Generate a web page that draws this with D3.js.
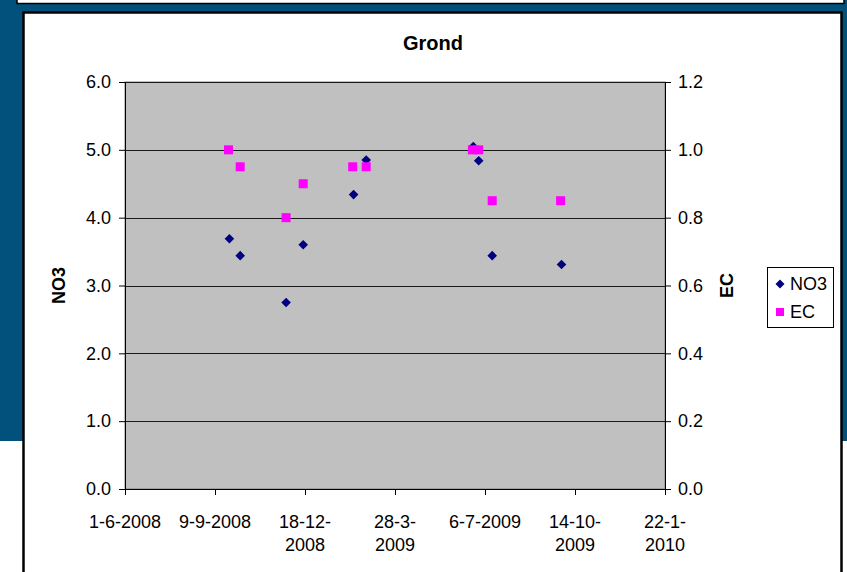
<!DOCTYPE html>
<html><head><meta charset="utf-8">
<script src="https://cdn.jsdelivr.net/npm/d3@7"></script>
<style>html,body{margin:0;padding:0;background:#fff;}svg{display:block;}</style>
</head><body>
<svg id="c" width="847" height="572"></svg>
<script>
const title = "Grond";
const no3Dates = ["2008-09-25","2008-10-07","2008-11-27","2008-12-16","2009-02-10","2009-02-24","2009-06-23","2009-06-29","2009-07-14","2009-09-29"];
const no3Values = [3.69,3.44,2.75,3.60,4.34,4.85,5.05,4.84,3.44,3.31];
const ecDates = ["2008-09-24","2008-10-07","2008-11-27","2008-12-16","2009-02-09","2009-02-24","2009-06-22","2009-06-29","2009-07-14","2009-09-28"];
const ecValues = [1.0,0.95,0.80,0.90,0.95,0.95,1.0,1.0,0.85,0.85];
const xTickDates = ["2008-06-01","2008-09-09","2008-12-18","2009-03-28","2009-07-06","2009-10-14","2010-01-22"];
const xTickLabels = ["1-6-2008","9-9-2008","18-12-2008","28-3-2009","6-7-2009","14-10-2009","22-1-2010"];
const leftTicks = [0,1,2,3,4,5,6];
const rightTicks = [0,0.2,0.4,0.6,0.8,1.0,1.2];
const seriesNames = ["NO3","EC"];

const parse = d3.utcParse("%Y-%m-%d");
const svg = d3.select("#c");
const font = "'Liberation Sans', Arial, sans-serif";
const blue = "#02507c";
const fs = 18;

// background
svg.append("rect").attr("x",0).attr("y",0).attr("width",847).attr("height",441).attr("fill",blue);
svg.append("rect").attr("x",17).attr("y",-4).attr("width",827).attr("height",7.5).attr("fill","#fff").attr("stroke","#000").attr("stroke-width",1.5);
svg.append("rect").attr("x",23.5).attr("y",12.5).attr("width",818).attr("height",580).attr("fill","#fff").attr("stroke","#000").attr("stroke-width",2.5);

const L=125, R=665, T=82, B=489;
const x = d3.scaleUtc().domain([parse(xTickDates[0]), parse(xTickDates[xTickDates.length-1])]).range([L,R]);
const yL = d3.scaleLinear().domain([0,6]).range([B,T]);
const yR = d3.scaleLinear().domain([0,1.2]).range([B,T]);

svg.append("rect").attr("x",L).attr("y",T).attr("width",R-L).attr("height",B-T).attr("fill","#c0c0c0").attr("stroke","#808080").attr("stroke-width",1);

// gridlines
svg.append("g").selectAll("line").data(leftTicks.slice(1)).join("line")
  .attr("x1",L).attr("x2",R).attr("y1",d=>Math.round(yL(d))+0.5).attr("y2",d=>Math.round(yL(d))+0.5)
  .attr("stroke","#1a1a1a").attr("stroke-width",1);

// axes
const fmt1 = d3.format(".1f");
const gl = svg.append("g").attr("transform",`translate(${L},0)`)
  .call(d3.axisLeft(yL).tickValues(leftTicks).tickFormat(fmt1).tickSize(6).tickSizeOuter(0));
const gr = svg.append("g").attr("transform",`translate(${R},0)`)
  .call(d3.axisRight(yR).tickValues(rightTicks).tickFormat(fmt1).tickSize(6).tickSizeOuter(0));
const gb = svg.append("g").attr("transform",`translate(0,${B})`)
  .call(d3.axisBottom(x).tickValues(xTickDates.map(parse)).tickFormat("").tickSize(6).tickSizeOuter(0));
[gl,gr,gb].forEach(g=>{
  g.select(".domain").attr("stroke","#000");
  g.selectAll(".tick line").attr("stroke","#000");
  g.selectAll("text").attr("font-family",font).attr("font-size",fs).attr("fill","#000");
});
gl.selectAll("text").attr("x",-14);
gr.selectAll("text").attr("x",13);

// x labels (wrapped)
const xl = svg.append("g");
xTickDates.forEach((d,i)=>{
  const lab = xTickLabels[i];
  let lines = [lab];
  if (lab.length > 8) { const k = lab.lastIndexOf("-"); lines = [lab.slice(0,k+1), lab.slice(k+1)]; }
  const t = xl.append("text").attr("x",x(parse(d))).attr("y",B+39).attr("text-anchor","middle")
    .attr("font-family",font).attr("font-size",fs).attr("fill","#000");
  lines.forEach((ln,j)=>t.append("tspan").attr("x",x(parse(d))).attr("dy",j?23:0).text(ln));
});

// title & axis titles
svg.append("text").attr("x",433).attr("y",50).attr("text-anchor","middle")
  .attr("font-family",font).attr("font-weight","bold").attr("font-size",20).text(title);
svg.append("text").attr("transform",`translate(65,${(T+B)/2}) rotate(-90)`).attr("text-anchor","middle")
  .attr("font-family",font).attr("font-weight","bold").attr("font-size",fs).text(seriesNames[0]);
svg.append("text").attr("transform",`translate(733,${(T+B)/2}) rotate(-90)`).attr("text-anchor","middle")
  .attr("font-family",font).attr("font-weight","bold").attr("font-size",fs).text(seriesNames[1]);

// markers
const diamond = s => `M0,${-s}L${s},0L0,${s}L${-s},0Z`;
svg.append("g").selectAll("path").data(no3Dates.map((d,i)=>({d:parse(d),v:no3Values[i]}))).join("path")
  .attr("transform",p=>`translate(${x(p.d)},${yL(p.v)})`).attr("d",diamond(4.8)).attr("fill","#000080");
svg.append("g").selectAll("rect").data(ecDates.map((d,i)=>({d:parse(d),v:ecValues[i]}))).join("rect")
  .attr("x",p=>x(p.d)-4.5).attr("y",p=>yR(p.v)-4.5).attr("width",9).attr("height",9).attr("fill","#ff00ff");

// legend
const lg = svg.append("g");
lg.append("rect").attr("x",767.5).attr("y",267.5).attr("width",66).attr("height",60).attr("fill","#fff").attr("stroke","#000").attr("stroke-width",1);
lg.append("path").attr("transform","translate(780,284)").attr("d",diamond(4.5)).attr("fill","#000080");
lg.append("rect").attr("x",776).attr("y",308).attr("width",8).attr("height",8).attr("fill","#ff00ff");
lg.append("text").attr("x",790).attr("y",290).attr("font-family",font).attr("font-size",fs).text(seriesNames[0]);
lg.append("text").attr("x",790).attr("y",318).attr("font-family",font).attr("font-size",fs).text(seriesNames[1]);
</script>
</body></html>
